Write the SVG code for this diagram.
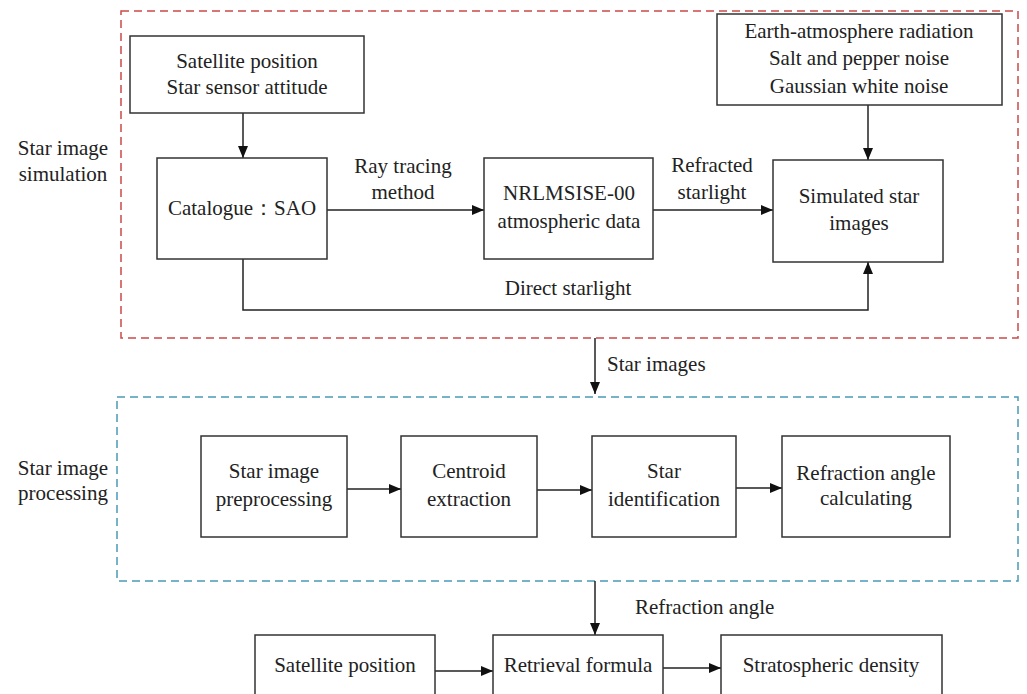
<svg xmlns="http://www.w3.org/2000/svg" width="1027" height="694" viewBox="0 0 1027 694" font-family="Liberation Serif, DejaVu Serif, serif" font-size="21">
<defs>
<marker id="ah" markerWidth="12" markerHeight="10" refX="12" refY="5" orient="auto" markerUnits="userSpaceOnUse">
<path d="M0,0 L12,5 L0,10 Z" fill="#111"/>
</marker>
<style>
text{fill:#222;}
.c{text-anchor:middle;}
.box{fill:#fff;stroke:#333;stroke-width:1.5;}
.ln{fill:none;stroke:#222;stroke-width:1.5;}
.red{fill:none;stroke:#cc4a4a;stroke-width:1.5;stroke-dasharray:8,5;}
.blue{fill:none;stroke:#4a9ab5;stroke-width:1.5;stroke-dasharray:8,5;}
</style>
</defs>
<rect width="1027" height="694" fill="#fff"/>
<g id="groups">
<rect class="red" x="121" y="11" width="897" height="327"/>
<rect class="blue" x="117" y="397" width="901" height="184"/>
<text class="c" x="63" y="155">Star image</text>
<text class="c" x="63" y="181">simulation</text>
<text class="c" x="63" y="475">Star image</text>
<text class="c" x="63" y="500">processing</text>
</g>
<g id="connectors">
<line class="ln" x1="243" y1="113" x2="243" y2="158" marker-end="url(#ah)"/>
<line class="ln" x1="327" y1="210" x2="484" y2="210" marker-end="url(#ah)"/>
<line class="ln" x1="653" y1="210" x2="773" y2="210" marker-end="url(#ah)"/>
<line class="ln" x1="868" y1="105" x2="868" y2="160" marker-end="url(#ah)"/>
<polyline class="ln" points="243,259 243,310 868,310 868,262" marker-end="url(#ah)"/>
<line class="ln" x1="595" y1="338" x2="595" y2="394" marker-end="url(#ah)"/>
<line class="ln" x1="347" y1="489" x2="401" y2="489" marker-end="url(#ah)"/>
<line class="ln" x1="537" y1="490" x2="592" y2="490" marker-end="url(#ah)"/>
<line class="ln" x1="727" y1="488" x2="782" y2="488" marker-end="url(#ah)"/>
<line class="ln" x1="595" y1="581" x2="595" y2="635" marker-end="url(#ah)"/>
<line class="ln" x1="435" y1="671" x2="493" y2="671" marker-end="url(#ah)"/>
<line class="ln" x1="663" y1="668" x2="721" y2="668" marker-end="url(#ah)"/>
<text class="c" x="403" y="173">Ray tracing</text>
<text class="c" x="403" y="199">method</text>
<text class="c" x="712" y="172">Refracted</text>
<text class="c" x="712" y="199">starlight</text>
<text class="c" x="568" y="295">Direct starlight</text>
<text x="607" y="371">Star images</text>
<text x="635" y="614">Refraction angle</text>
</g>
<g id="n-sat">
<rect class="box" x="130" y="36" width="234" height="77"/>
<text class="c" x="247" y="68">Satellite position</text>
<text class="c" x="247" y="94">Star sensor attitude</text>
</g>
<g id="n-cat">
<rect class="box" x="157" y="158" width="170" height="101"/>
<text class="c" x="242" y="215">Catalogue：SAO</text>
</g>
<g id="n-nrl">
<rect class="box" x="484" y="158" width="169" height="101"/>
<text class="c" x="569" y="200">NRLMSISE-00</text>
<text class="c" x="569" y="228">atmospheric data</text>
</g>
<g id="n-noise">
<rect class="box" x="717" y="14" width="285" height="91"/>
<text class="c" x="859" y="38">Earth-atmosphere radiation</text>
<text class="c" x="859" y="65">Salt and pepper noise</text>
<text class="c" x="859" y="93">Gaussian white noise</text>
</g>
<g id="n-sim">
<rect class="box" x="773" y="160" width="170" height="102"/>
<text class="c" x="859" y="203">Simulated star</text>
<text class="c" x="859" y="230">images</text>
</g>
<g id="n-pre">
<rect class="box" x="201" y="436" width="146" height="101"/>
<text class="c" x="274" y="478">Star image</text>
<text class="c" x="274" y="506">preprocessing</text>
</g>
<g id="n-cen">
<rect class="box" x="401" y="436" width="136" height="101"/>
<text class="c" x="469" y="478">Centroid</text>
<text class="c" x="469" y="506">extraction</text>
</g>
<g id="n-id">
<rect class="box" x="592" y="436" width="144" height="101"/>
<text class="c" x="664" y="478">Star</text>
<text class="c" x="664" y="506">identification</text>
</g>
<g id="n-ang">
<rect class="box" x="782" y="436" width="168" height="101"/>
<text class="c" x="866" y="480">Refraction angle</text>
<text class="c" x="866" y="505">calculating</text>
</g>
<g id="n-sat2">
<rect class="box" x="255" y="635" width="180" height="70"/>
<text class="c" x="345" y="672">Satellite position</text>
</g>
<g id="n-ret">
<rect class="box" x="493" y="635" width="170" height="70"/>
<text class="c" x="578" y="672">Retrieval formula</text>
</g>
<g id="n-den">
<rect class="box" x="721" y="635" width="221" height="70"/>
<text class="c" x="831" y="672">Stratospheric density</text>
</g>
</svg>
